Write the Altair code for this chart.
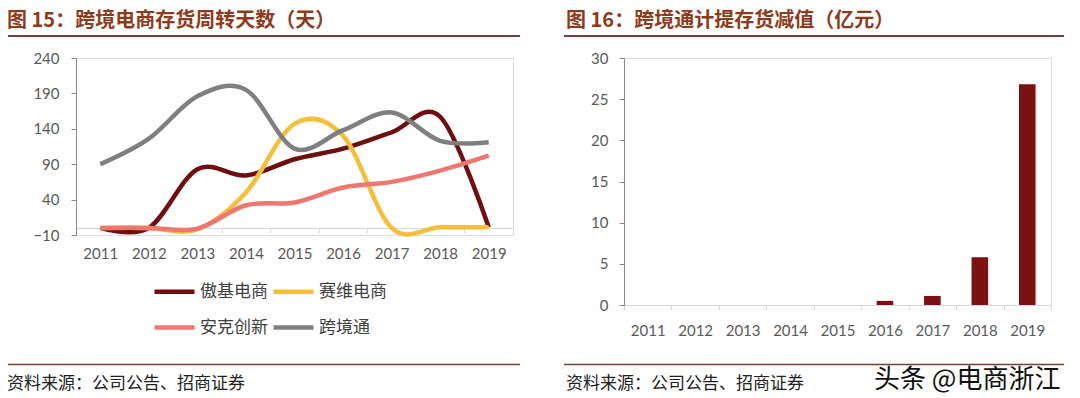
import altair as alt
import pandas as pd

# ---------------- data ----------------
years = ["2011", "2012", "2013", "2014", "2015", "2016", "2017", "2018", "2019"]
series_names = ["傲基电商", "赛维电商", "安克创新", "跨境通"]
series_colors = ["#6E0E0E", "#F4BF3A", "#EE7870", "#7F7F7F"]
aoji = [0, 0, 83, 74, 97, 112, 135, 157, 1]
saiwei = [0, 0, -2, 50, 147, 130, 0, 1, 1]
anker = [0, 0, -1, 32, 36, 57, 65, 81, 102]
kuajingtong = [90, 126, 186, 195, 112, 138, 163, 123, 121]
impairment = [0, 0, 0, 0, 0, 0.5, 1.1, 5.8, 26.8]
left_y_ticks = [-10, 40, 90, 140, 190, 240]
right_y_ticks = [0, 5, 10, 15, 20, 25, 30]

title_left = "图 15：跨境电商存货周转天数（天）"
title_right = "图 16：跨境通计提存货减值（亿元）"
source_text = "资料来源：公司公告、招商证券"
watermark = "头条 @电商浙江"

CJK = "Noto Sans CJK SC"
NUM = "Lato"
TITLE_COLOR = "#8E3B1B"
RULE_COLOR = "#7A3E3E"
LABEL_COLOR = "#595959"

line_df = pd.DataFrame({
    "year": years * 4,
    "value": aoji + saiwei + anker + kuajingtong,
    "series": [n for n in series_names for _ in years],
})
bar_df = pd.DataFrame({"year": years, "value": impairment})


def text_layer(txt, x, y, size, color, weight="normal"):
    return alt.Chart(pd.DataFrame({"t": [txt]})).mark_text(
        align="left", baseline="middle", fontSize=size, font=CJK,
        fontWeight=weight, color=color,
    ).encode(x=alt.value(x), y=alt.value(y), text="t:N")


def rule_layer(x0, x1, y, color, w):
    return alt.Chart(pd.DataFrame({"a": [0]})).mark_rule(
        color=color, strokeWidth=w
    ).encode(x=alt.value(x0), x2=alt.value(x1), y=alt.value(y))


# ---------------- left panel ----------------
LW, LH = 437, 177
lines = alt.Chart(line_df).mark_line(interpolate="cardinal", strokeWidth=4.5).encode(
    x=alt.X("year:O", bandPosition=0.5,
            scale=alt.Scale(type="band", paddingInner=0, paddingOuter=0),
            axis=alt.Axis(title=None, labelAngle=0, offset=-7, tickBand="extent",
                          domainColor="#D9D9D9", tickColor="#D9D9D9", tickSize=5,
                          labelPadding=13, labelFontSize=15, labelColor=LABEL_COLOR,
                          labelFont=NUM)),
    y=alt.Y("value:Q", scale=alt.Scale(domain=[-10, 240], nice=False, zero=False),
            axis=alt.Axis(title=None, values=left_y_ticks, grid=False,
                          domainColor="#8C8C8C", tickColor="#8C8C8C", tickSize=5,
                          labelPadding=12, labelFontSize=15, labelColor=LABEL_COLOR,
                          labelFont=NUM)),
    color=alt.Color("series:N",
                    scale=alt.Scale(domain=series_names, range=series_colors),
                    legend=alt.Legend(title=None, orient="none", legendX=76, legendY=211,
                                      direction="horizontal",
                                      columns=2, symbolType="stroke", symbolSize=1600,
                                      symbolStrokeWidth=4.5, labelFontSize=17,
                                      labelFont=CJK, labelColor="#404040",
                                      columnPadding=-4, rowPadding=4, labelOffset=3)),
)

left = alt.layer(
    lines,
    text_layer(title_left, -69, -37, 20, TITLE_COLOR, "bold"),
    rule_layer(-69, 444, -22, RULE_COLOR, 2),
    rule_layer(-69, 444, 306.5, RULE_COLOR, 1.5),
    text_layer(source_text, -69, 325.5, 17, "#222222"),
).properties(width=LW, height=LH)

# ---------------- right panel ----------------
RW, RH = 427, 247
bars = alt.Chart(bar_df).mark_bar(color="#7B1113", width=alt.RelativeBandSize(0.35)).encode(
    x=alt.X("year:O",
            scale=alt.Scale(type="band", paddingInner=0, paddingOuter=0),
            axis=alt.Axis(title=None, labelAngle=0, tickBand="extent",
                          domainColor="#D9D9D9", tickColor="#D9D9D9", tickSize=5,
                          labelPadding=13, labelFontSize=15, labelColor=LABEL_COLOR,
                          labelFont=NUM)),
    y=alt.Y("value:Q", scale=alt.Scale(domain=[0, 30], nice=False),
            axis=alt.Axis(title=None, values=right_y_ticks, grid=False,
                          domainColor="#8C8C8C", tickColor="#8C8C8C", tickSize=5,
                          labelPadding=11, labelFontSize=15, labelColor=LABEL_COLOR,
                          labelFont=NUM)),
)

right = alt.layer(
    bars,
    text_layer(title_right, -58, -37, 20, TITLE_COLOR, "bold"),
    rule_layer(-60, 440, -22, RULE_COLOR, 2),
    rule_layer(-60, 440, 306.5, RULE_COLOR, 1.5),
    text_layer(source_text, -58, 325.5, 17, "#222222"),
    text_layer(watermark, 250, 322, 26, "#111111"),
).properties(width=RW, height=RH)

chart = alt.hconcat(left, right, spacing=40).properties(
    padding={"left": -3, "top": 2, "right": 0, "bottom": 0}
).configure_view(stroke=None).configure(font=CJK)

chart.save("out.html", embed_options={"renderer": "svg", "actions": False})
